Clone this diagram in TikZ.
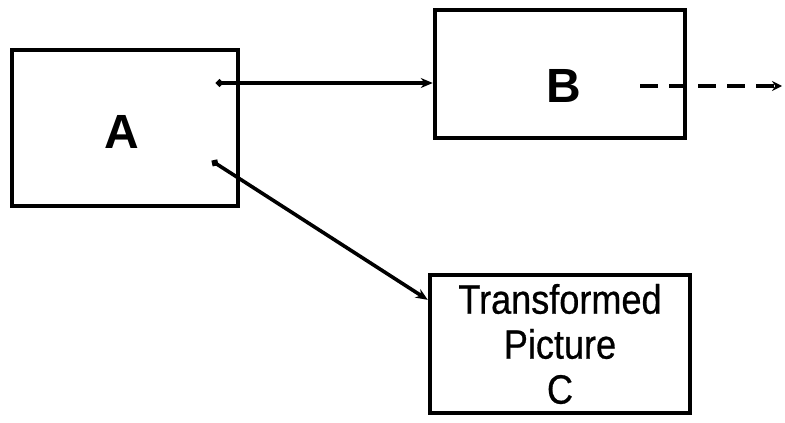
\documentclass[tikz,border=0pt]{standalone}
\usepackage{fontspec}
\setmainfont{Liberation Sans}
\newfontfamily\narrowfont[FakeStretch=0.88,FakeBold=0.6]{Liberation Sans}
\usetikzlibrary{arrows.meta,calc}
\begin{document}
\begin{tikzpicture}[x=1pt,y=-1pt,
  box/.style={draw=black,line width=4.5pt,minimum width=#1,inner sep=0pt},
  big/.style={font=\bfseries\fontsize{48}{48}\selectfont,inner sep=0pt},
  conn/.style={line width=3.6pt,line cap=round,{Circle[length=7pt]}-{Stealth[length=12pt,width=10pt]}},
  dashconn/.style={line width=4.5pt,dash pattern=on 18pt off 11pt,-{Stealth[length=10pt,width=10pt]}}]
\useasboundingbox (0,0) rectangle (785,423);
\node[box=226pt,minimum height=156pt] (A) at (125,128) {};
\node[box=250pt,minimum height=128pt] (B) at (560,74) {};
\node[box=260pt,minimum height=138pt,align=center,
      font=\narrowfont\fontsize{41}{45}\selectfont] (C) at (560,344)
      {Transformed\\Picture\\C};
\node[big] (At) at (122,132) {A};
\node[big] (Bt) at (564,86) {B};
\coordinate (a1) at (216,83);
\coordinate (a2) at (212,161);
\coordinate (b1) at (640,86);
\coordinate (b2) at (782,86);
\draw[conn] (a1) -- (a1 -| B.west);
\draw[conn] (a2) -- ($(C.north west)!0.19!(C.south west)$);
\draw[dashconn] (b1) -- (b2);
\end{tikzpicture}
\end{document}
